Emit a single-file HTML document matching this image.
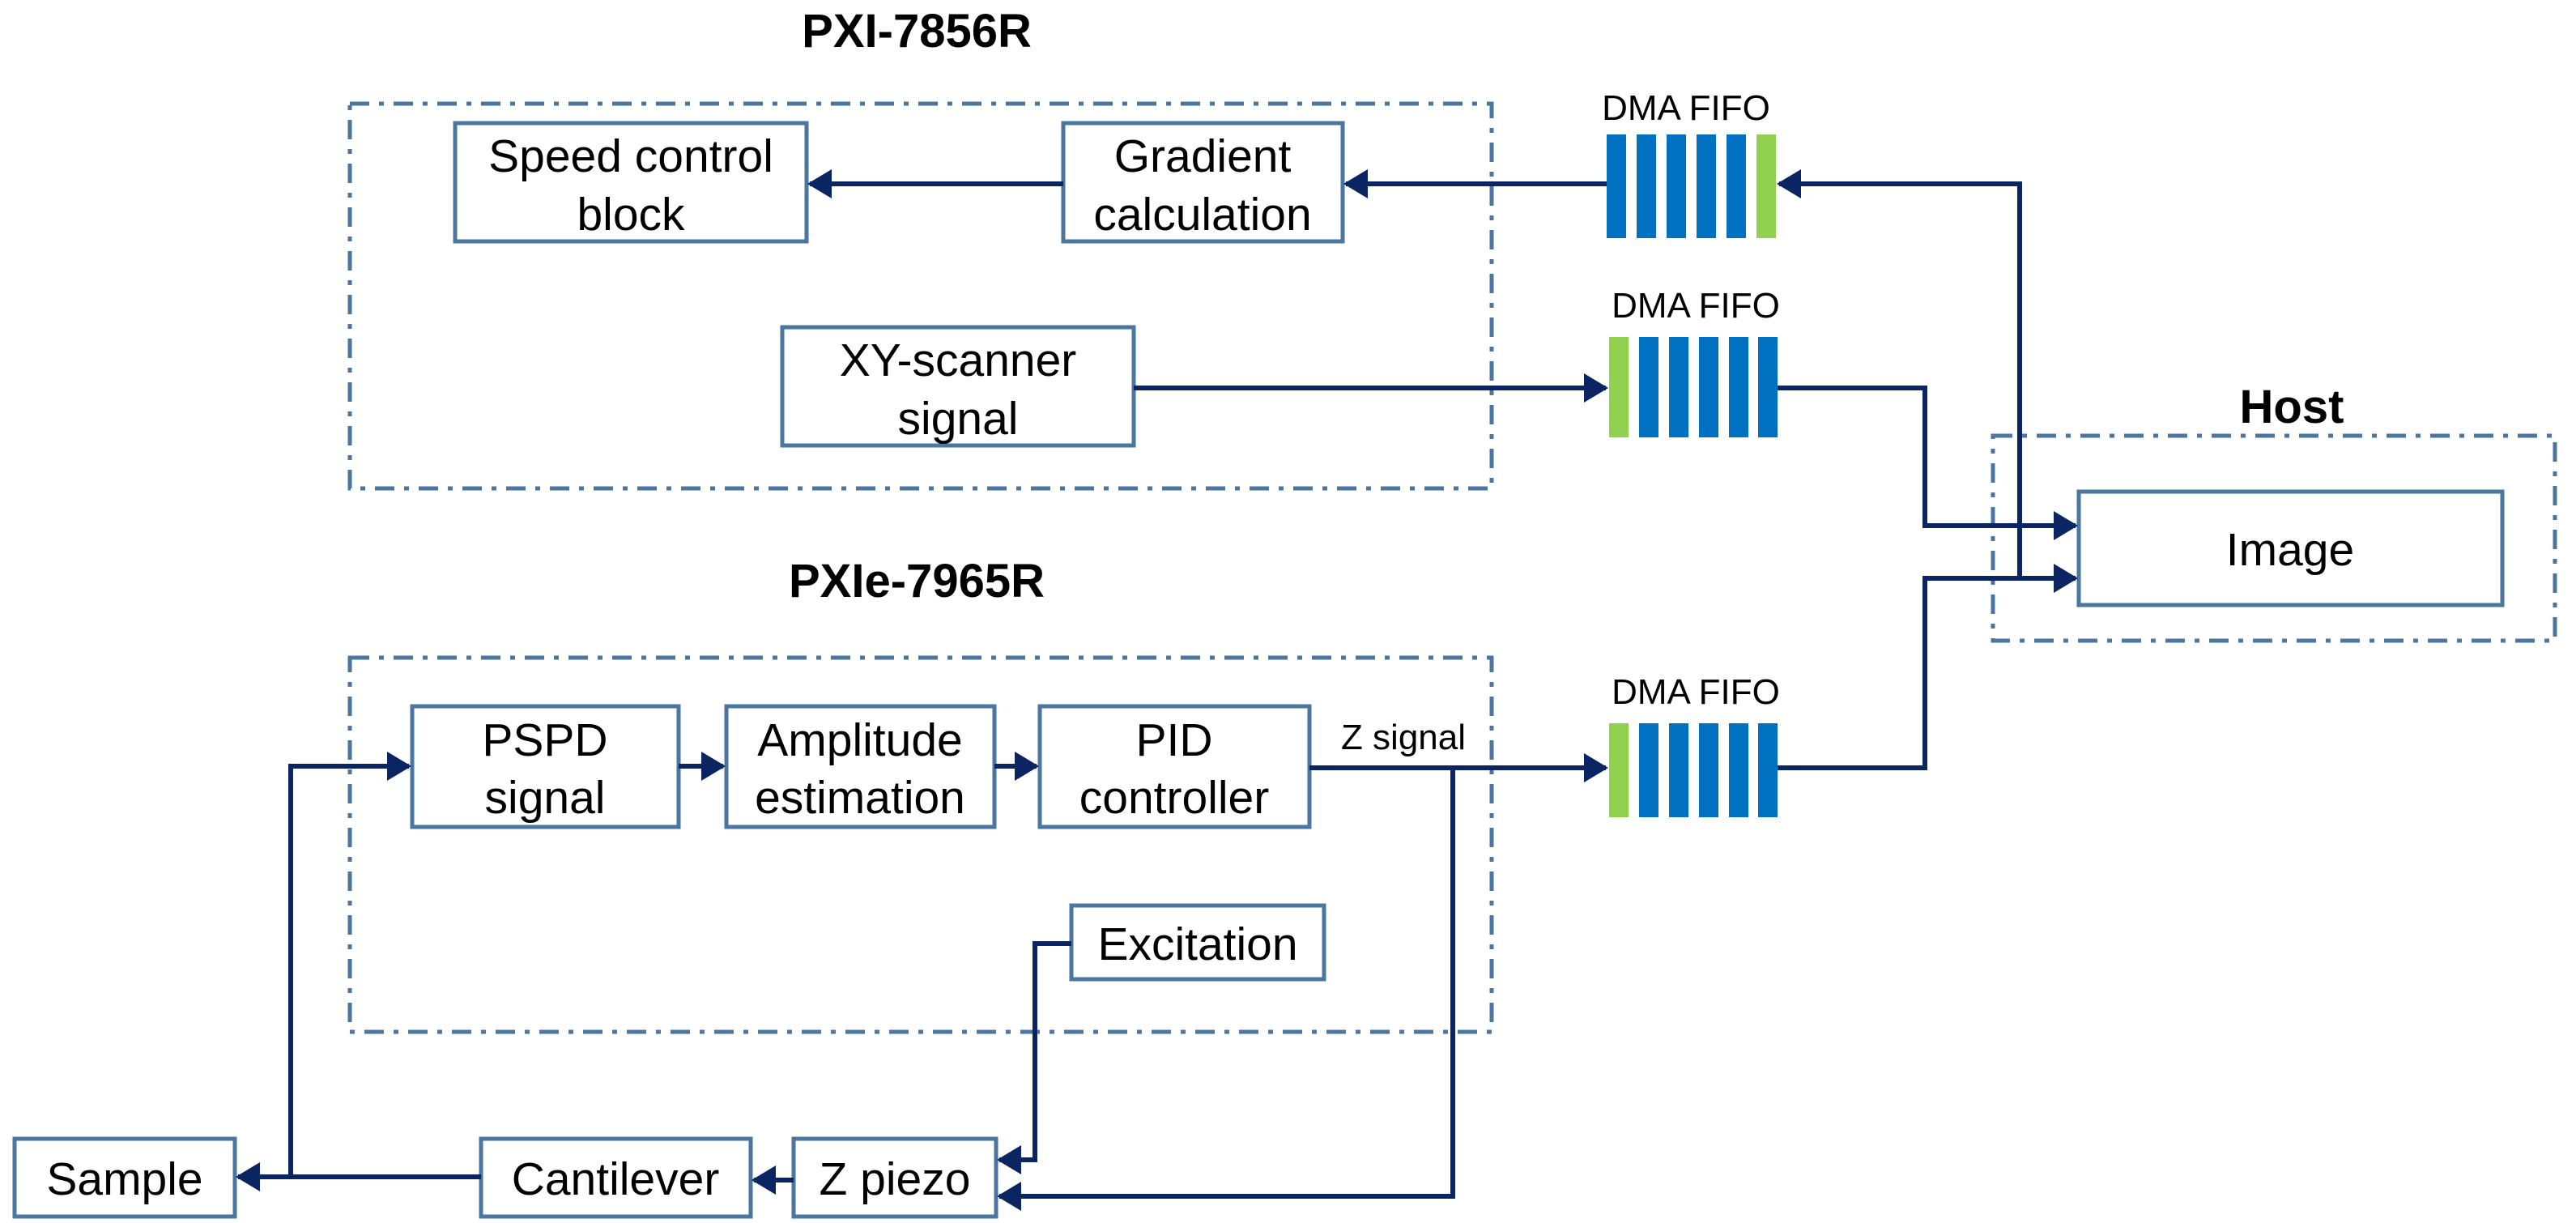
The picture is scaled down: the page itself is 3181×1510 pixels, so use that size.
<!DOCTYPE html>
<html><head><meta charset="utf-8"><style>
html,body{margin:0;padding:0;background:#fff;}
svg{display:block;}
text{font-family:"Liberation Sans",sans-serif;fill:#000;}
</style></head><body>
<svg width="3181" height="1510" viewBox="0 0 3181 1510" xmlns="http://www.w3.org/2000/svg">
<defs>
<marker id="a" markerWidth="5" markerHeight="6" refX="4.5" refY="3" orient="auto" markerUnits="strokeWidth">
<path d="M0,0 L5,3 L0,6 Z" fill="#0a2561"/>
</marker>
</defs>
<g fill="none" stroke="#4a76a0" stroke-width="5" stroke-dasharray="24 12 6 12">
<rect x="432" y="128" width="1410" height="475"/>
<rect x="432" y="812" width="1410" height="462"/>
<rect x="2461" y="538" width="694" height="253"/>
</g>
<text x="1132" y="58" font-size="58" font-weight="bold" text-anchor="middle">PXI-7856R</text>
<text x="1132" y="737" font-size="58" font-weight="bold" text-anchor="middle">PXIe-7965R</text>
<text x="2830" y="522" font-size="58" font-weight="bold" text-anchor="middle">Host</text>
<g fill="#fff" stroke="#4a76a0" stroke-width="5">
<rect x="562" y="152" width="434" height="146"/>
<rect x="1313" y="152" width="345" height="146"/>
<rect x="966" y="404" width="434" height="146"/>
<rect x="2567" y="607" width="523" height="140"/>
<rect x="509" y="872" width="329" height="149"/>
<rect x="897" y="872" width="331" height="149"/>
<rect x="1284" y="872" width="333" height="149"/>
<rect x="1323" y="1118" width="312" height="91"/>
<rect x="18" y="1406" width="272" height="96"/>
<rect x="594" y="1406" width="333" height="96"/>
<rect x="980" y="1406" width="250" height="96"/>
</g>
<g font-size="57" text-anchor="middle">
<text x="779" y="212">Speed control</text><text x="779" y="284">block</text>
<text x="1485" y="212">Gradient</text><text x="1485" y="284">calculation</text>
<text x="1183" y="464">XY-scanner</text><text x="1183" y="536">signal</text>
<text x="2828" y="698">Image</text>
<text x="673" y="933">PSPD</text><text x="673" y="1004">signal</text>
<text x="1062" y="933">Amplitude</text><text x="1062" y="1004">estimation</text>
<text x="1450" y="933">PID</text><text x="1450" y="1004">controller</text>
<text x="1479" y="1185">Excitation</text>
<text x="154" y="1475">Sample</text>
<text x="760" y="1475">Cantilever</text>
<text x="1105" y="1475">Z piezo</text>
</g>
<g font-size="44" text-anchor="middle">
<text x="2082" y="148">DMA FIFO</text>
<text x="2094" y="392">DMA FIFO</text>
<text x="2094" y="869">DMA FIFO</text>
<text x="1733" y="925">Z signal</text>
</g>
<g fill="#0070c0">
<rect x="1984" y="166" width="24" height="128"/><rect x="2021" y="166" width="24" height="128"/><rect x="2058" y="166" width="24" height="128"/><rect x="2095" y="166" width="24" height="128"/><rect x="2132" y="166" width="24" height="128"/>
<rect x="2024" y="416" width="24" height="124"/><rect x="2061" y="416" width="24" height="124"/><rect x="2098" y="416" width="24" height="124"/><rect x="2135" y="416" width="24" height="124"/><rect x="2171" y="416" width="24" height="124"/>
<rect x="2024" y="893" width="24" height="116"/><rect x="2061" y="893" width="24" height="116"/><rect x="2098" y="893" width="24" height="116"/><rect x="2135" y="893" width="24" height="116"/><rect x="2171" y="893" width="24" height="116"/>
</g>
<g fill="#92d050">
<rect x="2169" y="166" width="24" height="128"/>
<rect x="1987" y="416" width="24" height="124"/>
<rect x="1987" y="893" width="24" height="116"/>
</g>
<g fill="none" stroke="#0a2561" stroke-width="6">
<path d="M1984 227 H1662" marker-end="url(#a)"/>
<path d="M1313 227 H1000" marker-end="url(#a)"/>
<path d="M2494 714 V227 H2197" marker-end="url(#a)"/>
<path d="M1400 479 H1983" marker-end="url(#a)"/>
<path d="M2195 479 H2377 V649 H2563" marker-end="url(#a)"/>
<path d="M2195 948 H2377 V714 H2563" marker-end="url(#a)"/>
<path d="M1617 948 H1983" marker-end="url(#a)"/>
<path d="M838 946 H893" marker-end="url(#a)"/>
<path d="M1228 946 H1280" marker-end="url(#a)"/>
<path d="M1794 948 V1477 H1234" marker-end="url(#a)"/>
<path d="M1323 1165 H1278 V1432 H1234" marker-end="url(#a)"/>
<path d="M980 1457 H931" marker-end="url(#a)"/>
<path d="M594 1453 H294" marker-end="url(#a)"/>
<path d="M359 1453 V946 H505" marker-end="url(#a)"/>
</g>
</svg>
</body></html>
